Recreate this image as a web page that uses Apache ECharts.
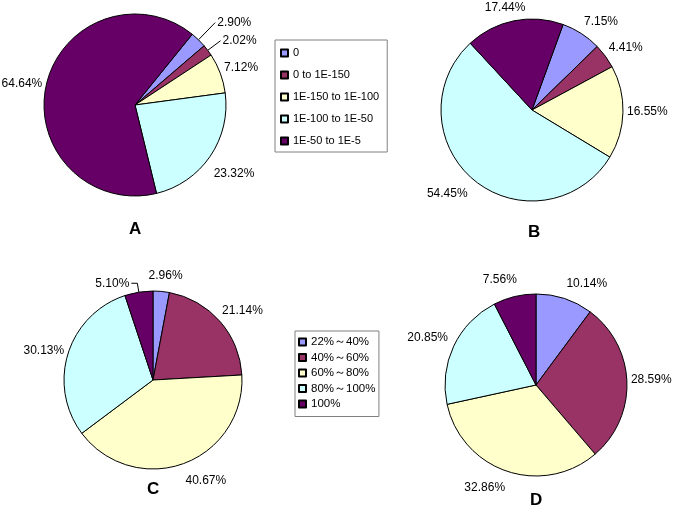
<!DOCTYPE html>
<html>
<head>
    <meta charset="utf-8">
    <title>pie A B C D</title>
    <script src="https://cdn.jsdelivr.net/npm/echarts@6/dist/echarts.min.js"></script>
    <style>
        html,body{
            height:100%;
            width:100%;
            margin:0;
            padding:0;
            background:#fff;
        }
        #main{
            width:675px;
            height:519px;
        }
    </style>
</head>
<body>
<div id="main"></div>
<script>
    var myChart = echarts.init(document.getElementById('main'));

    // A / B categories (e-value ranges)
    var evalNames = ['0', '0 to 1E-150', '1E-150 to 1E-100', '1E-100 to 1E-50', '1E-50 to 1E-5'];
    var aValues = [2.90, 2.02, 7.12, 23.32, 64.64];
    var bValues = [7.15, 4.41, 16.55, 54.45, 17.44];

    // C / D categories (identity ranges)
    var identNames = ['22%～40%', '40%～60%', '60%～80%', '80%～100%', '100%'];
    var cValues = [2.96, 21.14, 40.67, 30.13, 5.10];
    var dValues = [10.14, 28.59, 32.86, 20.85, 7.56];

    var colors = ['#9999FF', '#993366', '#FFFFCC', '#CCFFFF', '#660066'];
    var font = 'Arial, "Liberation Sans", sans-serif';

    // small label nudges (dx, dy) per pie, null = keep library position (leader line labels)
    var labelNudge = [
        [null, null, [0, -4], [0, 16], [0, -1]],
        [[0, -9], [0, -7], [0, -1], [-4, 11], [0, -10]],
        [[-14, -13], [-1, -9], [0, 14], [0, -2], null],
        [[0, -12], [0, -2], [0, 14], [-2, -7], [4, -14]]
    ];
    // gap between slice edge and text, where it differs from the default
    var labelGap = [[], [[4, -12]], [], []];
    // leader lines: [dataIndex, length, length2]
    var leaders = [
        [[0, 24, 0], [1, 16, 0]],
        [],
        [[4, 9, 6]],
        []
    ];

    function makeData(idx, names, values) {
        return names.map(function (n, i) {
            var item = {name: n, value: values[i]};
            var nudge = labelNudge[idx][i];
            if (nudge) {
                item.label = {offset: nudge};
            }
            labelGap[idx].forEach(function (g) {
                if (g[0] === i) {
                    item.label = item.label || {};
                    item.label.distanceToLabelLine = g[1];
                }
            });
            leaders[idx].forEach(function (l) {
                if (l[0] === i) {
                    item.labelLine = {show: true, length: l[1], length2: l[2]};
                    item.label = {distanceToLabelLine: 2};
                }
            });
            return item;
        });
    }

    function pieSeries(idx, center, radius, startAngle, names, values) {
        return {
            type: 'pie',
            center: center,
            radius: radius,
            startAngle: startAngle,
            clockwise: true,
            avoidLabelOverlap: false,
            silent: true,
            animation: false,
            color: colors,
            itemStyle: {borderColor: '#000', borderWidth: 1},
            label: {
                position: 'outside',
                formatter: function (p) { return p.value.toFixed(2) + '%'; },
                fontFamily: font,
                fontSize: 12,
                color: '#000',
                distanceToLabelLine: 1
            },
            labelLine: {show: false, length: 3, length2: 0, lineStyle: {color: '#000', width: 1}},
            data: makeData(idx, names, values)
        };
    }

    var letterStyle = {fontFamily: font, fontSize: 17, fontWeight: 'bold', color: '#000'};

    var option = {
        backgroundColor: '#fff',
        color: colors,
        title: [
            {text: 'A', left: 129, top: 221, padding: 0, textStyle: letterStyle},
            {text: 'B', left: 528, top: 224, padding: 0, textStyle: letterStyle},
            {text: 'C', left: 147, top: 481, padding: 0, textStyle: letterStyle},
            {text: 'D', left: 530, top: 492, padding: 0, textStyle: letterStyle}
        ],
        legend: [
            {
                data: evalNames,
                orient: 'vertical',
                left: 275, top: 40,
                padding: [7.5, 8, 5.5, 5],
                itemGap: 11,
                itemWidth: 7, itemHeight: 7,
                icon: 'rect',
                borderColor: '#808080', borderWidth: 1,
                selectedMode: false,
                textStyle: {fontFamily: font, fontSize: 11, color: '#000'}
            },
            {
                data: identNames,
                orient: 'vertical',
                left: 295, top: 331,
                padding: [5, 3.5, 6.5, 3],
                itemGap: 3.5,
                itemWidth: 7, itemHeight: 7,
                icon: 'rect',
                borderColor: '#808080', borderWidth: 1,
                selectedMode: false,
                textStyle: {fontFamily: font, fontSize: 11.5, color: '#000'}
            }
        ],
        series: [
            pieSeries(0, [135, 105], 91, 51, evalNames, aValues),
            pieSeries(1, [532, 110], 91, 70, evalNames, bValues),
            pieSeries(2, [153, 380], 89, 90, identNames, cValues),
            pieSeries(3, [536, 385], 91, 90, identNames, dValues)
        ]
    };
    myChart.setOption(option);
</script>
</body>
</html>
